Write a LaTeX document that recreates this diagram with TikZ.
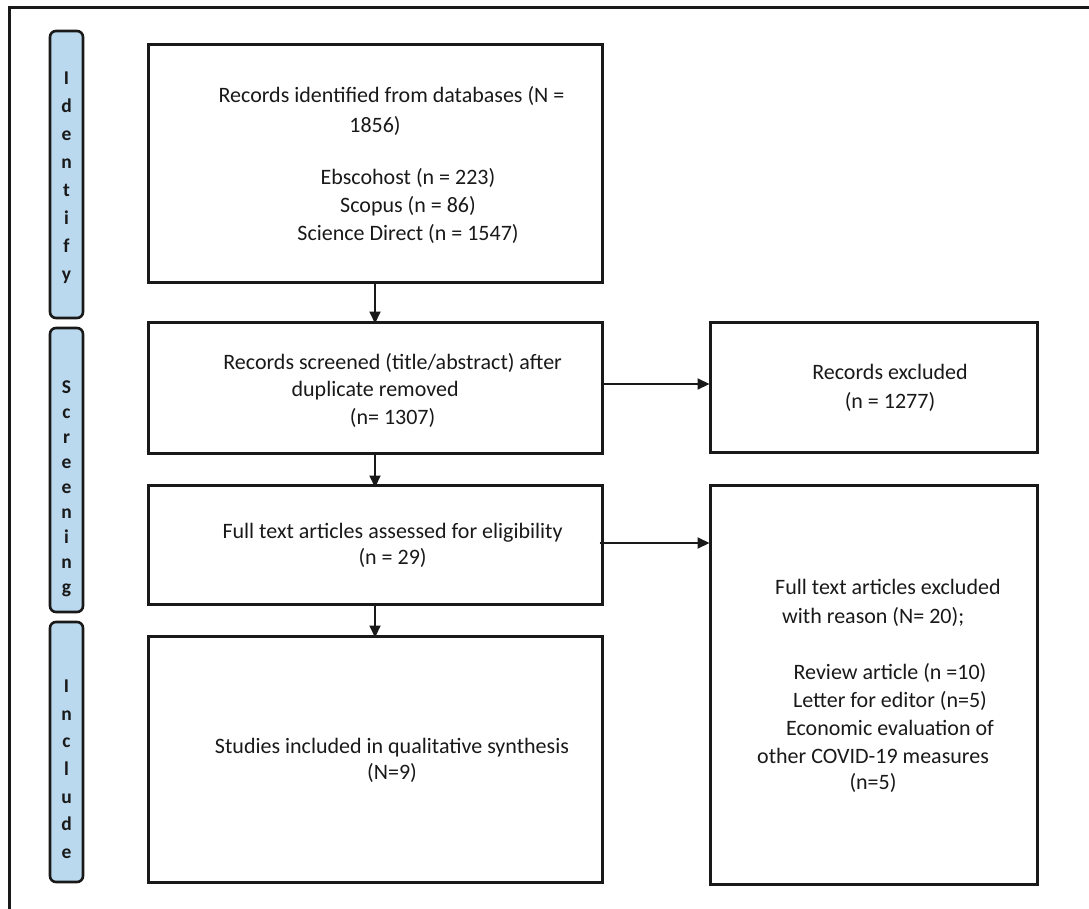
\documentclass[tikz,border=0pt]{standalone}
\usepackage{fontspec}
\setmainfont{Carlito}
\usetikzlibrary{arrows.meta}
\definecolor{sidefill}{RGB}{186,217,238}
\definecolor{ink}{RGB}{25,25,25}
\begin{document}
\begin{tikzpicture}[x=1pt,y=-1pt,
  box/.style={draw=ink, line width=3pt, inner sep=0pt},
  side/.style={draw=ink, line width=2.6pt, fill=sidefill, rounded corners=6pt, inner sep=0pt, minimum width=33pt},
  letters/.style={anchor=north, inner sep=0pt, align=center, text=ink, font=\fontsize{19.5}{#1}\selectfont\bfseries},
  txt/.style={anchor=north, font=\fontsize{22}{#1}\selectfont, text=ink, inner sep=0pt, align=center},
  txt/.default=28,
  arr/.style={draw=ink, line width=2pt, -{Triangle[length=12pt,width=11pt]}}]
\useasboundingbox (0,0) rectangle (1089,909);
\draw[line width=3pt, ink] (9,909) -- (9,7.5) -- (1089,7.5);
% side stage labels
\node[side, minimum height=287pt] (sI) at (66.5,174.5) {};
\node[side, minimum height=284pt] (sS) at (66.5,470) {};
\node[side, minimum height=260pt] (sC) at (66.5,752) {};
\node[letters=28] (lI) at (66.5,71.5) {I\\d\\e\\n\\t\\i\\f\\y};
\node[letters=25] (lS) at (66.5,380.5) {S\\c\\r\\e\\e\\n\\i\\n\\g};
\node[letters=27.7] (lC) at (66.5,679.5) {I\\n\\c\\l\\u\\d\\e};
% main boxes
\node[box, minimum width=454pt, minimum height=238pt] (b1) at (375,163.5) {};
\node[box, minimum width=454pt, minimum height=131pt] (b2) at (375,387.5) {};
\node[box, minimum width=454pt, minimum height=119pt] (b3) at (375,544.5) {};
\node[box, minimum width=454pt, minimum height=246pt] (b4) at (375,759) {};
\node[box, minimum width=327pt, minimum height=130pt] (r1) at (873.5,387) {};
\node[box, minimum width=327pt, minimum height=399pt] (r2) at (873.5,684.5) {};
% texts
\node[txt] (t1a) at (391.5,86) {Records identified from databases (N =};
\node[txt] (t1c) at (375,116) {1856)};
\node[txt] (t1b) at (408,168) {Ebscohost (n = 223)\\Scopus (n = 86)\\Science Direct (n = 1547)};
\node[txt=27.5] (t2) at (392.6,353) {Records screened (title/abstract) after\\duplicate removed\kern35pt\\(n= 1307)};
\node[txt=29] (t3) at (890,364) {Records excluded\\(n = 1277)};
\node[txt=26.5] (t4) at (392.6,523) {Full text articles assessed for eligibility\\(n = 29)};
\node[txt=29, anchor=north west, align=left] (t5) at (775,579) {Full text articles excluded\\\hspace*{7pt}with reason (N= 20);};
\node[txt] (t6) at (890,663) {Review article (n =10)\\Letter for editor (n=5)\\Economic evaluation of};
\node[txt=26.5] (t6b) at (873,748) {other COVID-19 measures\\(n=5)};
\node[txt=26.5] (t7) at (392,738) {Studies included in qualitative synthesis\\(N=9)};
% arrows
\draw[arr] (b1.south) -- ([yshift=-3pt]b2.north);
\draw[arr] (b2.south) -- ([yshift=-4pt]b3.north);
\draw[arr] (b3.south) -- ([yshift=-3pt]b4.north);
\draw[arr] (b2.east |- 0,384) -- ([xshift=1pt]r1.west |- 0,384);
\draw[arr] ([xshift=-4pt]b3.east |- 0,543) -- ([xshift=1pt]r2.west |- 0,543);
\end{tikzpicture}
\end{document}
